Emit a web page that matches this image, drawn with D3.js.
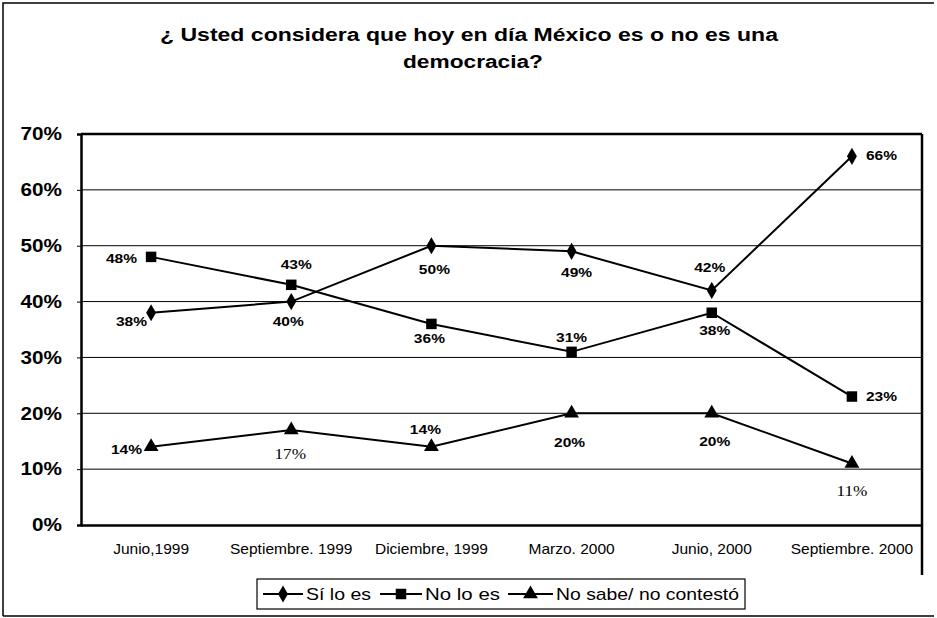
<!DOCTYPE html>
<html>
<head>
<meta charset="utf-8">
<script src="https://cdn.jsdelivr.net/npm/d3@7"></script>
<style>
  body { margin: 0; background: #fff; }
  svg { display: block; font-family: "Liberation Sans", Arial, sans-serif; }
</style>
</head>
<body>
<div id="chart"></div>
<script>
// Data
const categories = ["Junio,1999", "Septiembre. 1999", "Diciembre, 1999", "Marzo. 2000", "Junio, 2000", "Septiembre. 2000"];
const siLoEs   = [38, 40, 50, 49, 42, 66];
const noLoEs   = [48, 43, 36, 31, 38, 23];
const noSabe   = [14, 17, 14, 20, 20, 11];
const seriesNames = ["Sí lo es", "No lo es", "No sabe/ no contestó"];
const yTicks = [0, 10, 20, 30, 40, 50, 60, 70];

// label placement per point (dx, dy, anchor, serif?) - layout only
const labelPos = [
  [[-4, 13, "end"], [-3, 24, "middle"], [3, 28, "middle"], [5, 26, "middle"], [-2, -18, "middle"], [14, 4, "start"]],
  [[-14, 6, "end"], [5, -16, "middle"], [-2, 19, "middle"], [0, -10, "middle"], [3, 22, "middle"], [14, 4, "start"]],
  [[-9, 7, "end"], [-1, 29, "middle", true], [-6, -13, "middle"], [-2, 34, "middle"], [3, 33, "middle"], [0, 32, "middle", true]]
];

const W = 937, H = 618;
const margin = { left: 81, top: 134, right: 15, bottom: 93 };

// the scanned original is stretched sideways, so widen text by a factor
function stretch(sel, k) {
  sel.each(function () {
    const w = this.getComputedTextLength();
    d3.select(this).attr("textLength", w * k).attr("lengthAdjust", "spacingAndGlyphs");
  });
}

const svg = d3.select("#chart").append("svg")
  .attr("width", W).attr("height", H);

// outer frame of the scanned page
svg.append("path")
  .attr("d", `M3,616 L3,3 L934,3`)
  .attr("fill", "none").attr("stroke", "#000").attr("stroke-width", 1.5);
svg.append("line")
  .attr("x1", 3).attr("x2", 934).attr("y1", 616).attr("y2", 616)
  .attr("stroke", "#000").attr("stroke-width", 1.5);

// title
const title = svg.append("g")
  .attr("font-weight", "bold")
  .attr("font-size", 18);
title.append("text").attr("x", 160).attr("y", 41)
  .attr("textLength", 618).attr("lengthAdjust", "spacingAndGlyphs")
  .text("¿ Usted considera que hoy en día México es o no es una");
title.append("text").attr("x", 403).attr("y", 68)
  .attr("textLength", 140).attr("lengthAdjust", "spacingAndGlyphs")
  .text("democracia?");

const x = d3.scaleBand()
  .domain(categories)
  .range([margin.left, W - margin.right])
  .padding(0);
const y = d3.scaleLinear()
  .domain([0, 70])
  .range([H - margin.bottom, margin.top]);
const cx = c => x(c) + x.bandwidth() / 2;

// gridlines
svg.append("g")
  .selectAll("line")
  .data(yTicks.filter(t => t > 0 && t < 70))
  .join("line")
  .attr("x1", margin.left).attr("x2", W - margin.right)
  .attr("y1", d => y(d)).attr("y2", d => y(d))
  .attr("stroke", "#000").attr("stroke-width", 1);

// y axis
const yAxis = svg.append("g")
  .attr("transform", `translate(${margin.left},0)`)
  .call(d3.axisLeft(y).tickValues(yTicks).tickFormat(d => d + "%").tickSize(4).tickPadding(15));
yAxis.select(".domain").attr("stroke-width", 2.5);
yAxis.selectAll("text")
  .attr("font-size", 18).attr("font-weight", "bold")
  .attr("font-family", "'Liberation Sans', Arial, sans-serif").attr("fill", "#000")
  .call(stretch, 1.15);

// x axis
const xAxis = svg.append("g")
  .attr("transform", `translate(0,${H - margin.bottom})`)
  .call(d3.axisBottom(x).tickSize(0).tickPadding(19));
xAxis.select(".domain").attr("stroke-width", 2.5);
xAxis.selectAll("text")
  .attr("font-size", 14.5)
  .attr("font-family", "'Liberation Sans', Arial, sans-serif").attr("fill", "#000")
  .call(stretch, 1.07);

// plot frame top and right
svg.append("line")
  .attr("x1", margin.left).attr("x2", W - margin.right)
  .attr("y1", y(70)).attr("y2", y(70))
  .attr("stroke", "#000").attr("stroke-width", 2.5);
svg.append("line")
  .attr("x1", W - margin.right).attr("x2", W - margin.right)
  .attr("y1", y(70)).attr("y2", 575)
  .attr("stroke", "#000").attr("stroke-width", 2.5);

const allSeries = [siLoEs, noLoEs, noSabe];
const markerTypes = [d3.symbolDiamond, d3.symbolSquare, d3.symbolTriangle];
const markerSizes = [85, 110, 95];

const line = d3.line()
  .x((d, i) => cx(categories[i]))
  .y(d => y(d));

allSeries.forEach((vals, s) => {
  const g = svg.append("g");
  g.append("path")
    .datum(vals)
    .attr("d", line)
    .attr("fill", "none")
    .attr("stroke", "#000")
    .attr("stroke-width", 2);

  g.selectAll("path.mk")
    .data(vals)
    .join("path")
    .attr("class", "mk")
    .attr("d", d3.symbol().type(markerTypes[s]).size(markerSizes[s]))
    .attr("transform", (d, i) => `translate(${cx(categories[i])},${y(d)})`)
    .attr("fill", "#000");

  g.selectAll("text")
    .data(vals)
    .join("text")
    .attr("x", (d, i) => cx(categories[i]) + labelPos[s][i][0])
    .attr("y", (d, i) => y(d) + labelPos[s][i][1])
    .attr("text-anchor", (d, i) => labelPos[s][i][2])
    .attr("font-size", (d, i) => labelPos[s][i][3] ? 15 : 13.5)
    .attr("font-weight", (d, i) => labelPos[s][i][3] ? "normal" : "bold")
    .attr("font-family", (d, i) => labelPos[s][i][3] ? "'Liberation Serif', 'Times New Roman', serif" : null)
    .text(d => d + "%")
    .call(stretch, 1.15);
});

// legend
const legend = svg.append("g").attr("transform", "translate(257,579)");
legend.append("rect")
  .attr("width", 488).attr("height", 30)
  .attr("fill", "#fff").attr("stroke", "#000").attr("stroke-width", 1.2);

const legendX = [6, 123, 251];
const legendLineW = [40, 42, 45];
const legendTextW = [65, 75, 183];
seriesNames.forEach((name, s) => {
  const item = legend.append("g").attr("transform", `translate(${legendX[s]},15)`);
  item.append("line")
    .attr("x1", 0).attr("x2", legendLineW[s])
    .attr("stroke", "#000").attr("stroke-width", 2);
  item.append("path")
    .attr("d", d3.symbol().type(markerTypes[s]).size(markerSizes[s]))
    .attr("transform", `translate(${legendLineW[s] / 2},0)`)
    .attr("fill", "#000");
  item.append("text")
    .attr("x", legendLineW[s] + 3)
    .attr("y", 6)
    .attr("font-size", 17)
    .attr("textLength", legendTextW[s])
    .attr("lengthAdjust", "spacingAndGlyphs")
    .text(name);
});
</script>
</body>
</html>
